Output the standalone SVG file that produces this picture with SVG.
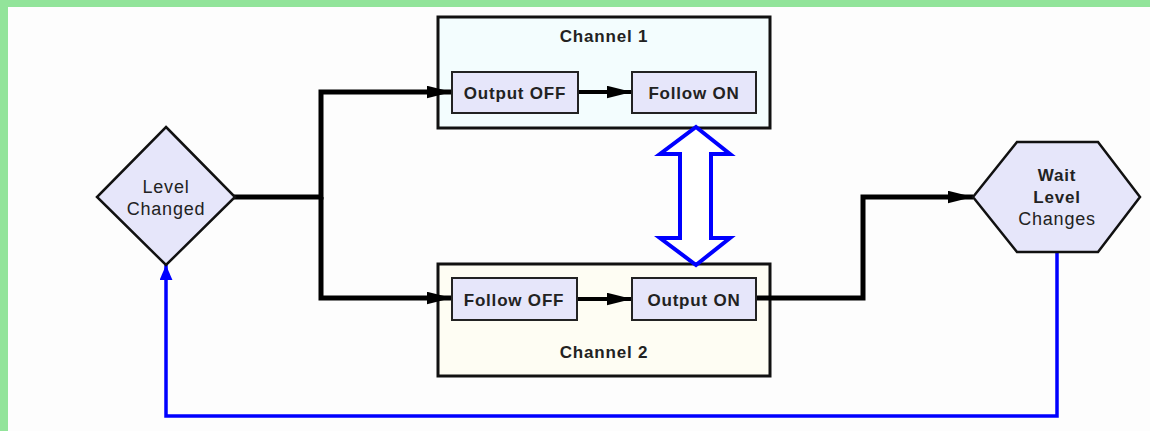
<svg xmlns="http://www.w3.org/2000/svg" width="1150" height="431" viewBox="0 0 1150 431">
  <style>
    .group { stroke: #111; stroke-width: 3; }
    .step { fill: #e6e6fa; stroke: #222; stroke-width: 2; }
    .shape { fill: #e6e6fa; stroke: #111; stroke-width: 2.5; }
    .label { font-family: "Liberation Sans", Arial, sans-serif; font-size: 17px; font-weight: bold; letter-spacing: 0.8px; fill: #222; text-anchor: middle; }
    .node-label { font-family: "Liberation Sans", Arial, sans-serif; font-size: 18px; letter-spacing: 0.8px; fill: #222; text-anchor: middle; }
    .flow { fill: none; stroke: #000; stroke-width: 5; stroke-linejoin: miter; }
    .inner { fill: none; stroke: #000; stroke-width: 4; }
    .loop { fill: none; stroke: #0000ff; stroke-width: 3.5; }
  </style>
  <defs>
    <marker id="head-black" viewBox="0 0 20 10" refX="20" refY="5" markerUnits="userSpaceOnUse" markerWidth="25" markerHeight="13" orient="auto">
      <path d="M0,0 L20,5 L0,10 z" fill="#000"/>
    </marker>
    <marker id="head-blue" viewBox="0 0 14 12" refX="14" refY="6" markerUnits="userSpaceOnUse" markerWidth="15" markerHeight="13" orient="auto">
      <path d="M0,0 L14,6 L0,12 z" fill="#0000ff"/>
    </marker>
  </defs>

  <!-- frame -->
  <rect x="0" y="0" width="1150" height="431" fill="#fdfdfd"/>
  <rect x="0" y="0" width="1150" height="7" fill="#92e49a"/>
  <rect x="0" y="0" width="8" height="431" fill="#92e49a"/>

  <!-- channel containers -->
  <g id="channel1">
    <rect class="group" x="438" y="17" width="332" height="111" fill="#f3fdfe"/>
    <text class="label" x="604" y="42">Channel 1</text>
  </g>
  <g id="channel2">
    <rect class="group" x="438" y="264" width="332" height="112" fill="#fefdf3"/>
    <text class="label" x="604" y="358">Channel 2</text>
  </g>

  <!-- connectors -->
  <g id="connectors">
    <path class="flow" d="M234,197 H321 V92 H452" marker-end="url(#head-black)"/>
    <path class="flow" d="M321,197 V298 H452" marker-end="url(#head-black)"/>
    <path class="inner" d="M578,92 H632" marker-end="url(#head-black)"/>
    <path class="inner" d="M577,299 H632" marker-end="url(#head-black)"/>
    <path class="flow" d="M756,298 H863 V197 H973" marker-end="url(#head-black)"/>
    <path class="loop" d="M1057,252 V416 H166 V265" marker-end="url(#head-blue)"/>
    <!-- channel link -->
    <path d="M696,127 L730,154 L711,154 L711,238 L730,238 L696,265 L660,238 L680,238 L680,154 L660,154 Z" fill="#fff" stroke="#0000ff" stroke-width="4" stroke-linejoin="miter"/>
  </g>

  <g id="output-off">
    <rect class="step" x="452" y="72" width="126" height="41"/>
    <text class="label" x="515" y="99">Output OFF</text>
  </g>
  <g id="follow-on">
    <rect class="step" x="632" y="72" width="124" height="41"/>
    <text class="label" x="694" y="99">Follow ON</text>
  </g>
  <g id="follow-off">
    <rect class="step" x="452" y="278" width="125" height="42"/>
    <text class="label" x="514" y="306">Follow OFF</text>
  </g>
  <g id="output-on">
    <rect class="step" x="632" y="278" width="124" height="42"/>
    <text class="label" x="694" y="306">Output ON</text>
  </g>

  <g id="level-changed">
    <polygon class="shape" points="166,127 235,197 166,265 97,197"/>
    <text class="node-label" x="166" y="193">Level</text>
    <text class="node-label" x="166" y="215">Changed</text>
  </g>
  <g id="wait-level-changes">
    <polygon class="shape" points="1017,142 1098,142 1140,197 1098,252 1017,252 973,197"/>
    <text class="label" x="1057" y="181">Wait</text>
    <text class="label" x="1057" y="203">Level</text>
    <text class="node-label" x="1057" y="225">Changes</text>
  </g>
</svg>
